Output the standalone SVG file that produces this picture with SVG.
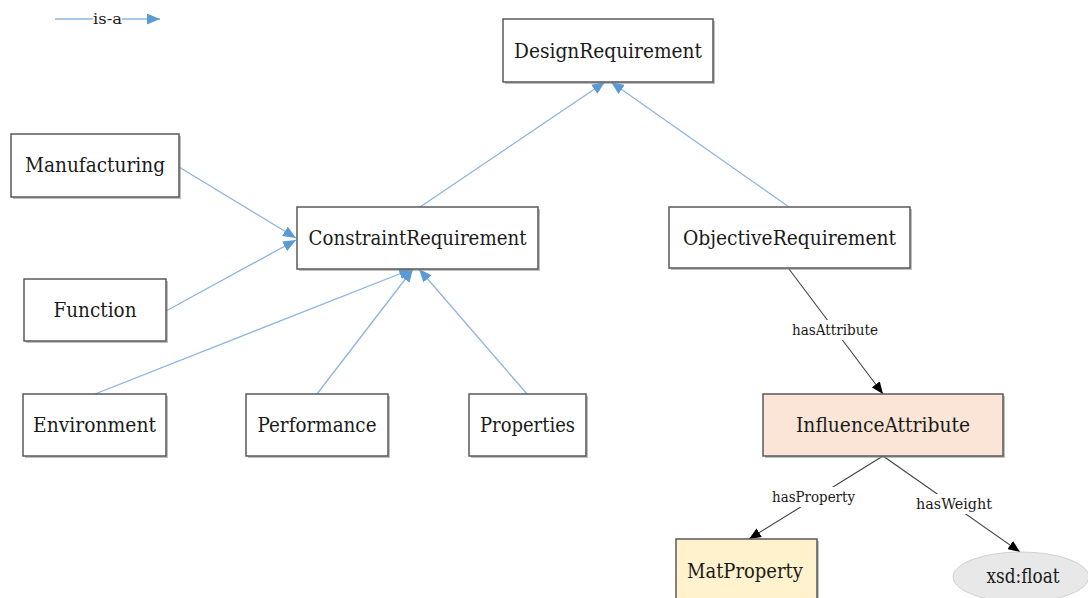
<svg xmlns="http://www.w3.org/2000/svg" width="1088" height="598" viewBox="0 0 1088 598">
  <style>
    .box { stroke: #595959; stroke-width: 1.5; fill: #ffffff; }
    .shadow { fill: #8c8c8c; opacity: 0.55; }
    .lbl { font-family: "DejaVu Serif", "Liberation Serif", serif; font-size: 20px; fill: #1a1a1a; text-anchor: middle; }
    .elbl { font-family: "DejaVu Serif", "Liberation Serif", serif; font-size: 14.5px; fill: #1a1a1a; text-anchor: middle; }
    .isa { stroke: #8db4e2; stroke-width: 1.3; fill: none; marker-end: url(#blueArrow); }
    .rel { stroke: #404040; stroke-width: 1.1; fill: none; marker-end: url(#blackArrow); }
    .bg { fill: #ffffff; }
  </style>
  <defs>
    <marker id="blueArrow" viewBox="0 0 13 11" refX="13" refY="5.5" markerWidth="13" markerHeight="11" markerUnits="userSpaceOnUse" orient="auto">
      <path d="M0,0 L13,5.5 L0,11 Z" fill="#5b9bd5"/>
    </marker>
    <marker id="blackArrow" viewBox="0 0 12 10" refX="12" refY="5" markerWidth="12" markerHeight="10" markerUnits="userSpaceOnUse" orient="auto">
      <path d="M0,0 L12,5 L0,10 Z" fill="#000000"/>
    </marker>
  </defs>

  <rect width="1088" height="598" fill="#ffffff"/>

  <!-- legend -->
  <g id="legend">
    <line class="isa" x1="55" y1="19" x2="160" y2="19"/>
    <rect class="bg" x="93" y="11" width="29" height="16"/>
    <text class="elbl" x="107.5" y="24" textLength="29" lengthAdjust="spacingAndGlyphs">is-a</text>
  </g>

  <!-- connectors -->
  <g id="connectors">
    <line class="isa" x1="420" y1="207" x2="605" y2="82"/>
    <line class="isa" x1="789" y1="207" x2="611" y2="82"/>
    <line class="isa" x1="179" y1="167" x2="296" y2="238"/>
    <line class="isa" x1="166" y1="311" x2="296" y2="240"/>
    <line class="isa" x1="95" y1="394" x2="412" y2="269"/>
    <line class="isa" x1="317" y1="394" x2="413" y2="269"/>
    <line class="isa" x1="527" y1="394" x2="419" y2="269"/>

    <line class="rel" x1="789" y1="269" x2="883" y2="394"/>
    <rect class="bg" x="792" y="320" width="86" height="20"/>
    <text class="elbl" x="835" y="335" textLength="86" lengthAdjust="spacingAndGlyphs">hasAttribute</text>

    <line class="rel" x1="883" y1="456" x2="749" y2="539"/>
    <rect class="bg" x="772" y="487" width="83" height="20"/>
    <text class="elbl" x="813.5" y="502" textLength="83" lengthAdjust="spacingAndGlyphs">hasProperty</text>

    <line class="rel" x1="883" y1="456" x2="1020" y2="552"/>
    <rect class="bg" x="916" y="494" width="76" height="20"/>
    <text class="elbl" x="954" y="509" textLength="76" lengthAdjust="spacingAndGlyphs">hasWeight</text>
  </g>

  <!-- nodes -->
  <g id="DesignRequirement">
    <rect class="shadow" x="505" y="21" width="210" height="63"/>
    <rect class="box" x="503" y="19" width="210" height="63"/>
    <text class="lbl" x="608" y="58" textLength="188" lengthAdjust="spacingAndGlyphs">DesignRequirement</text>
  </g>
  <g id="Manufacturing">
    <rect class="shadow" x="13" y="136" width="168" height="63"/>
    <rect class="box" x="11" y="134" width="168" height="63"/>
    <text class="lbl" x="95" y="172" textLength="140" lengthAdjust="spacingAndGlyphs">Manufacturing</text>
  </g>
  <g id="ConstraintRequirement">
    <rect class="shadow" x="299" y="209" width="241" height="62"/>
    <rect class="box" x="297" y="207" width="241" height="62"/>
    <text class="lbl" x="417.5" y="245" textLength="218" lengthAdjust="spacingAndGlyphs">ConstraintRequirement</text>
  </g>
  <g id="ObjectiveRequirement">
    <rect class="shadow" x="671" y="209" width="241" height="61"/>
    <rect class="box" x="669" y="207" width="241" height="61"/>
    <text class="lbl" x="789.5" y="245" textLength="213" lengthAdjust="spacingAndGlyphs">ObjectiveRequirement</text>
  </g>
  <g id="Function">
    <rect class="shadow" x="26" y="281" width="142" height="62"/>
    <rect class="box" x="24" y="279" width="142" height="62"/>
    <text class="lbl" x="95" y="317" textLength="83" lengthAdjust="spacingAndGlyphs">Function</text>
  </g>
  <g id="Environment">
    <rect class="shadow" x="25" y="396" width="143" height="62"/>
    <rect class="box" x="23" y="394" width="143" height="62"/>
    <text class="lbl" x="94.5" y="432" textLength="123" lengthAdjust="spacingAndGlyphs">Environment</text>
  </g>
  <g id="Performance">
    <rect class="shadow" x="248" y="396" width="142" height="62"/>
    <rect class="box" x="246" y="394" width="142" height="62"/>
    <text class="lbl" x="317" y="432" textLength="119" lengthAdjust="spacingAndGlyphs">Performance</text>
  </g>
  <g id="Properties">
    <rect class="shadow" x="471" y="396" width="117" height="62"/>
    <rect class="box" x="469" y="394" width="117" height="62"/>
    <text class="lbl" x="527.5" y="432" textLength="95" lengthAdjust="spacingAndGlyphs">Properties</text>
  </g>
  <g id="InfluenceAttribute">
    <rect class="shadow" x="765" y="396" width="240" height="62"/>
    <rect class="box" x="763" y="394" width="240" height="62" style="fill:#fbe5d6"/>
    <text class="lbl" x="883" y="432" textLength="174" lengthAdjust="spacingAndGlyphs">InfluenceAttribute</text>
  </g>
  <g id="MatProperty">
    <rect class="shadow" x="678" y="541" width="141" height="70"/>
    <rect class="box" x="676" y="539" width="141" height="70" style="fill:#fff2cc"/>
    <text class="lbl" x="745" y="578" textLength="116" lengthAdjust="spacingAndGlyphs">MatProperty</text>
  </g>
  <g id="xsdFloat">
    <ellipse cx="1021" cy="577" rx="68" ry="25" fill="#e8e8e8" stroke="#d0d0d0" stroke-width="1"/>
    <text class="lbl" x="1023" y="583" textLength="73" lengthAdjust="spacingAndGlyphs">xsd:float</text>
  </g>
</svg>
